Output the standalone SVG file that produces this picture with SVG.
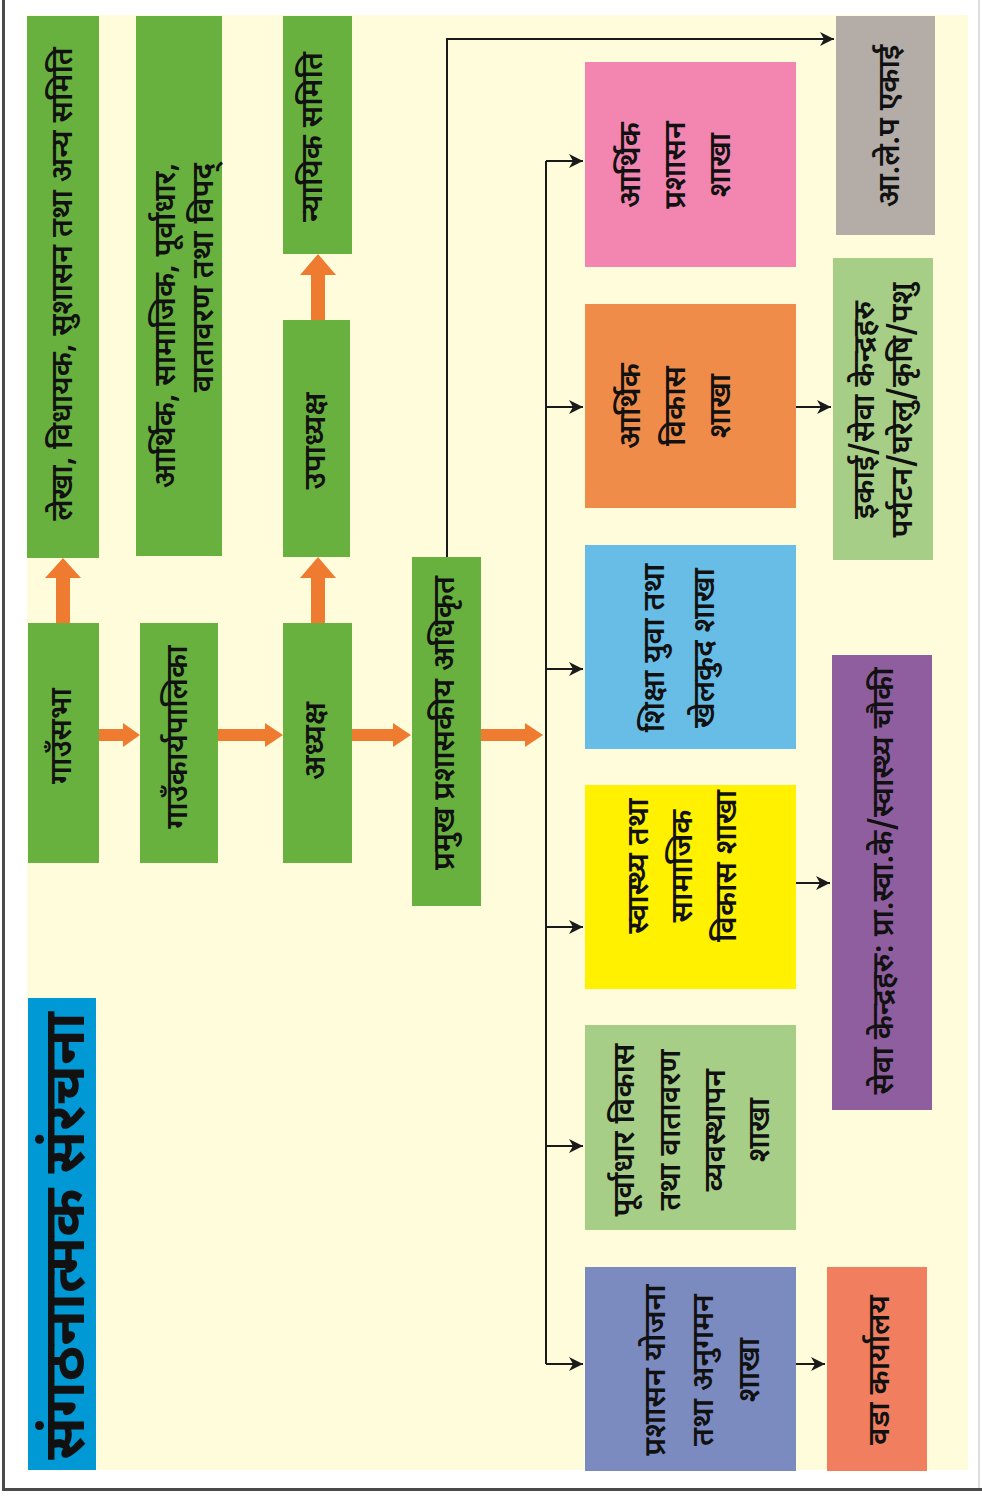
<svg xmlns="http://www.w3.org/2000/svg" width="982" height="1496" viewBox="0 0 982 1496">
<defs>
<style>
.t{font-family:'Noto Sans Devanagari','Lohit Devanagari','Noto Sans',sans-serif;font-size:30px;font-weight:600;fill:#111;text-anchor:middle;dominant-baseline:central}
.ttl{font-family:'Noto Sans Devanagari','Lohit Devanagari','Noto Sans',sans-serif;font-size:58px;font-weight:bold;fill:#111;text-anchor:middle;dominant-baseline:central}
.g{fill:#68B13F}
.oa{fill:#EE7B30}
.ln{fill:none;stroke:#1a1a1a;stroke-width:2}
</style>
<marker id="ah" markerUnits="userSpaceOnUse" markerWidth="16" markerHeight="16" refX="14" refY="8" orient="auto" viewBox="0 0 16 16">
<path d="M0,1 L14,8 L0,15 L4,8 Z" fill="#1a1a1a"/>
</marker>
</defs>
<rect x="0" y="0" width="982" height="1496" fill="#ffffff"/>
<rect x="27" y="15" width="941" height="1455" fill="#FFFCDC"/>
<path d="M3.5,0 V1489.5 H982" fill="none" stroke="#4a4a4a" stroke-width="3"/>
<path d="M979,0 V1488" fill="none" stroke="#d4d4d4" stroke-width="1.5"/>

<g id="title"><rect x="28" y="998" width="68" height="472" fill="#0099D6"/>
<text class="ttl" transform="translate(70,1236) rotate(-90)" x="0" y="0">संगठनात्मक संरचना</text></g>

<g id="n_lekha"><rect class="g" x="27" y="16" width="72" height="542"/>
<text class="t" transform="translate(64,284) rotate(-90)">लेखा, विधायक, सुशासन तथा अन्य समिति</text></g>
<g id="n_samiti2"><rect class="g" x="136" y="16" width="86" height="540"/>
<text class="t" style="text-anchor:end" transform="translate(186,163) rotate(-90)"><tspan x="0" y="-19">आर्थिक, सामाजिक, पूर्वाधार,</tspan><tspan x="0" y="19">वातावरण तथा विपद्</tspan></text></g>
<g id="n_nyayik"><rect class="g" x="283" y="16" width="69" height="238"/>
<text class="t" transform="translate(314,137) rotate(-90)">न्यायिक समिति</text></g>
<g id="n_upadhyaksha"><rect class="g" x="283" y="320" width="67" height="237"/>
<text class="t" transform="translate(317,441) rotate(-90)">उपाध्यक्ष</text></g>
<g id="n_gausabha"><rect class="g" x="28" y="623" width="71" height="240"/>
<text class="t" transform="translate(63,736) rotate(-90)">गाउँसभा</text></g>
<g id="n_karyapalika"><rect class="g" x="140" y="623" width="78" height="240"/>
<text class="t" transform="translate(179,737) rotate(-90)">गाउँकार्यपालिका</text></g>
<g id="n_adhyaksha"><rect class="g" x="283" y="623" width="69" height="240"/>
<text class="t" transform="translate(317,741) rotate(-90)">अध्यक्ष</text></g>
<g id="n_pramukh"><rect class="g" x="412" y="557" width="69" height="349"/>
<text class="t" transform="translate(446,723) rotate(-90)">प्रमुख प्रशासकीय अधिकृत</text></g>

<g id="b_arthik_prashasan"><rect x="585" y="62" width="211" height="205" fill="#F286B0"/>
<text class="t" transform="translate(677,165) rotate(-90)"><tspan x="0" y="-45">आर्थिक</tspan><tspan x="0" y="0">प्रशासन</tspan><tspan x="0" y="45">शाखा</tspan></text></g>
<g id="b_arthik_vikas"><rect x="585" y="304" width="211" height="204" fill="#F08C4A"/>
<text class="t" transform="translate(677,406) rotate(-90)"><tspan x="0" y="-45">आर्थिक</tspan><tspan x="0" y="0">विकास</tspan><tspan x="0" y="45">शाखा</tspan></text></g>
<g id="b_shiksha"><rect x="585" y="545" width="211" height="204" fill="#67BDE5"/>
<text class="t" transform="translate(681,648) rotate(-90)"><tspan x="0" y="-25">शिक्षा युवा तथा</tspan><tspan x="0" y="25">खेलकुद शाखा</tspan></text></g>
<g id="b_swasthya"><rect x="585" y="785" width="211" height="204" fill="#FFF100"/>
<text class="t" transform="translate(684,866) rotate(-90)"><tspan x="0" y="-44">स्वास्थ्य तथा</tspan><tspan x="0" y="0">सामाजिक</tspan><tspan x="0" y="44">विकास शाखा</tspan></text></g>
<g id="b_purvadhar"><rect x="585" y="1025" width="211" height="205" fill="#A7CE86"/>
<text class="t" transform="translate(694,1130) rotate(-90)"><tspan x="0" y="-68">पूर्वाधार विकास</tspan><tspan x="0" y="-22">तथा वातावरण</tspan><tspan x="0" y="23">व्यवस्थापन</tspan><tspan x="0" y="67">शाखा</tspan></text></g>
<g id="b_prashasan"><rect x="585" y="1267" width="211" height="204" fill="#7B8BBF"/>
<text class="t" transform="translate(705,1370) rotate(-90)"><tspan x="0" y="-48">प्रशासन योजना</tspan><tspan x="0" y="0">तथा अनुगमन</tspan><tspan x="0" y="46">शाखा</tspan></text></g>

<g id="r_alep"><rect x="836" y="16" width="99" height="219" fill="#B3ACA7"/>
<text class="t" transform="translate(891,126) rotate(-90)">आ.ले.प एकाई</text></g>
<g id="r_ikai"><rect x="833" y="258" width="100" height="302" fill="#A7CE86"/>
<text class="t" transform="translate(885,410) rotate(-90)"><tspan x="0" y="-19">इकाई/सेवा केन्द्रहरु</tspan><tspan x="0" y="19">पर्यटन/घरेलु/कृषि/पशु</tspan></text></g>
<g id="r_seva"><rect x="832" y="655" width="100" height="455" fill="#8F5E9F"/>
<text class="t" transform="translate(885,881) rotate(-90)">सेवा केन्द्रहरु: प्रा.स्वा.के/स्वास्थ्य चौकी</text></g>
<g id="r_wada"><rect x="827" y="1267" width="100" height="204" fill="#F07E5F"/>
<text class="t" transform="translate(881,1370) rotate(-90)">वडा कार्यालय</text></g>

<g id="connectors">
<polygon class="oa" points="99,729 123,729 123,723 140,735 123,747 123,741 99,741"/>
<polygon class="oa" points="218,729 265,729 265,723 283,735 265,747 265,741 218,741"/>
<polygon class="oa" points="352,729 393,729 393,723 411,735 393,747 393,741 352,741"/>
<polygon class="oa" points="481,729 525,729 525,723 543,735 525,747 525,741 481,741"/>
<polygon class="oa" points="56,623 56,578 45,578 63,558 81,578 70,578 70,623"/>
<polygon class="oa" points="311,623 311,578 300,578 318,557 336,578 325,578 325,623"/>
<polygon class="oa" points="311,320 311,275 300,275 318,254 336,275 325,275 325,320"/>
<path class="ln" d="M546,161 V1364"/>
<path class="ln" d="M546,161 H583" marker-end="url(#ah)"/>
<path class="ln" d="M546,407 H583" marker-end="url(#ah)"/>
<path class="ln" d="M546,669 H583" marker-end="url(#ah)"/>
<path class="ln" d="M546,927 H583" marker-end="url(#ah)"/>
<path class="ln" d="M546,1146 H583" marker-end="url(#ah)"/>
<path class="ln" d="M546,1364 H583" marker-end="url(#ah)"/>
<path class="ln" d="M447,557 V39 H834" marker-end="url(#ah)"/>
<path class="ln" d="M796,407 H831" marker-end="url(#ah)"/>
<path class="ln" d="M796,883 H830" marker-end="url(#ah)"/>
<path class="ln" d="M796,1364 H825" marker-end="url(#ah)"/>
</g>
</svg>
